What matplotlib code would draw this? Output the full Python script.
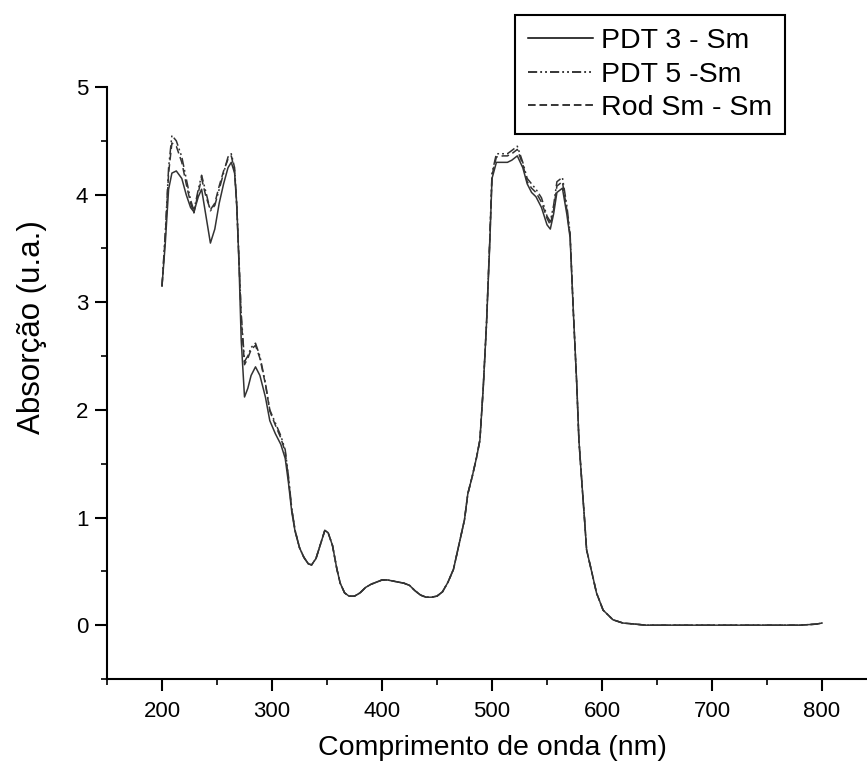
import matplotlib
matplotlib.use("Agg")
import matplotlib.pyplot as plt
from matplotlib import ticker

plt.rcParams['font.family'] = ['Liberation Sans', 'DejaVu Sans']

# wavelength (nm), shared by the three spectra
wavelength = [200, 203, 206, 209, 213, 218, 222, 226, 229, 233,
              236, 240, 244, 248, 252, 256, 260, 263, 266, 268,
              270, 272, 275, 278, 281, 285, 289, 294, 298, 303,
              308, 312, 315, 318, 321, 325, 329, 333, 336, 340,
              344, 348, 351, 355, 359, 362, 366, 370, 375, 380,
              385, 390, 395, 400, 405, 410, 415, 420, 425, 430,
              435, 440, 445, 450, 455, 460, 465, 470, 475, 478,
              482, 486, 489, 492, 495, 498, 500, 504, 510, 514,
              518, 523, 528, 532, 536, 540, 545, 550, 553, 556,
              559, 564, 568, 571, 574, 577, 579, 582, 584, 586,
              591, 595, 601, 610, 619, 630, 640, 660, 680, 700,
              720, 740, 760, 780, 795, 800]

pdt3_sm = [3.15, 3.55, 4.05, 4.20, 4.22, 4.15, 4.00, 3.88, 3.84, 3.98,
           4.05, 3.80, 3.55, 3.68, 3.92, 4.10, 4.25, 4.30, 4.20, 3.90,
           3.35, 2.65, 2.12, 2.20, 2.32, 2.40, 2.32, 2.12, 1.90, 1.78,
           1.68, 1.55, 1.32, 1.05, 0.87, 0.72, 0.63, 0.57, 0.56, 0.62,
           0.75, 0.88, 0.86, 0.74, 0.52, 0.39, 0.30, 0.27, 0.27, 0.30,
           0.35, 0.38, 0.40, 0.42, 0.42, 0.41, 0.40, 0.39, 0.37, 0.32,
           0.28, 0.26, 0.26, 0.27, 0.31, 0.40, 0.52, 0.75, 0.98, 1.22,
           1.38, 1.56, 1.72, 2.20, 2.80, 3.55, 4.15, 4.30, 4.30, 4.30,
           4.32, 4.36, 4.25, 4.10, 4.02, 3.98, 3.88, 3.72, 3.68, 3.82,
           4.02, 4.06, 3.82, 3.60, 2.90, 2.25, 1.72, 1.28, 1.00, 0.70,
           0.48, 0.30, 0.14, 0.05, 0.02, 0.01, 0.00, 0.00, 0.00, 0.00,
           0.00, 0.00, 0.00, 0.00, 0.01, 0.02]

pdt5_sm = [3.15, 3.65, 4.25, 4.55, 4.50, 4.35, 4.15, 3.95, 3.85, 4.05,
           4.18, 4.02, 3.85, 3.90, 4.05, 4.20, 4.35, 4.38, 4.25, 3.90,
           3.40, 2.90, 2.45, 2.50, 2.58, 2.62, 2.50, 2.25, 2.00, 1.88,
           1.76, 1.63, 1.38, 1.08, 0.88, 0.72, 0.63, 0.57, 0.56, 0.62,
           0.75, 0.88, 0.86, 0.74, 0.52, 0.39, 0.30, 0.27, 0.27, 0.30,
           0.35, 0.38, 0.40, 0.42, 0.42, 0.41, 0.40, 0.39, 0.37, 0.32,
           0.28, 0.26, 0.26, 0.27, 0.31, 0.40, 0.52, 0.75, 0.98, 1.22,
           1.38, 1.56, 1.72, 2.20, 2.80, 3.60, 4.20, 4.38, 4.38, 4.38,
           4.41, 4.45, 4.30, 4.15, 4.10, 4.05, 3.97, 3.80, 3.75, 3.90,
           4.12, 4.16, 3.90, 3.64, 2.90, 2.25, 1.72, 1.28, 1.00, 0.70,
           0.48, 0.30, 0.14, 0.05, 0.02, 0.01, 0.00, 0.00, 0.00, 0.00,
           0.00, 0.00, 0.00, 0.00, 0.01, 0.02]

rod_sm = [3.15, 3.62, 4.20, 4.48, 4.45, 4.30, 4.10, 3.92, 3.83, 4.02,
          4.15, 3.98, 3.86, 3.92, 4.08, 4.22, 4.33, 4.36, 4.22, 3.88,
          3.38, 2.85, 2.42, 2.48, 2.56, 2.60, 2.48, 2.24, 1.99, 1.86,
          1.74, 1.61, 1.36, 1.07, 0.88, 0.72, 0.63, 0.57, 0.56, 0.62,
          0.75, 0.88, 0.86, 0.74, 0.52, 0.39, 0.30, 0.27, 0.27, 0.30,
          0.35, 0.38, 0.40, 0.42, 0.42, 0.41, 0.40, 0.39, 0.37, 0.32,
          0.28, 0.26, 0.26, 0.27, 0.31, 0.40, 0.52, 0.75, 0.98, 1.22,
          1.38, 1.56, 1.72, 2.20, 2.80, 3.58, 4.18, 4.35, 4.36, 4.36,
          4.38, 4.42, 4.28, 4.12, 4.06, 4.02, 3.93, 3.78, 3.72, 3.86,
          4.08, 4.12, 3.86, 3.62, 2.90, 2.25, 1.72, 1.28, 1.00, 0.70,
          0.48, 0.30, 0.14, 0.05, 0.02, 0.01, 0.00, 0.00, 0.00, 0.00,
          0.00, 0.00, 0.00, 0.00, 0.01, 0.02]

labels = ["PDT 3 - Sm", "PDT 5 -Sm", "Rod Sm - Sm"]

fig = plt.figure(figsize=(8.67, 7.70), dpi=100)
# axes placed like the scan: left spine at x=107px, bottom at y=679px
ax = fig.add_axes([107 / 867, 91 / 770, 770 / 867, 592 / 770])

ax.plot(wavelength, pdt3_sm, color='#333333', lw=1.1, ls='-', label=labels[0])
ax.plot(wavelength, pdt5_sm, color='#333333', lw=1.1,
        ls=(0, (6, 2, 1.2, 2, 1.2, 2)), label=labels[1])
ax.plot(wavelength, rod_sm, color='#333333', lw=1.1,
        ls=(0, (5, 2.5)), label=labels[2])

ax.set_xlim(150, 850)
ax.set_ylim(-0.5, 5)

ax.spines['top'].set_visible(False)
ax.spines['right'].set_visible(False)
for side in ['left', 'bottom']:
    ax.spines[side].set_linewidth(1.5)

ax.xaxis.set_major_locator(ticker.MultipleLocator(100))
ax.xaxis.set_minor_locator(ticker.MultipleLocator(50))
ax.yaxis.set_major_locator(ticker.MultipleLocator(1))
ax.yaxis.set_minor_locator(ticker.MultipleLocator(0.5))
ax.tick_params(which='major', direction='out', length=8.5, width=1.5)
ax.tick_params(which='minor', direction='out', length=4, width=1.2)
ax.tick_params(axis='x', labelsize=16, pad=7)
ax.tick_params(axis='y', labelsize=16, pad=5)

ax.set_xlabel("Comprimento de onda (nm)", fontsize=20.5, labelpad=10)
ax.set_ylabel("Absorção (u.a.)", fontsize=22.5)
ax.yaxis.set_label_coords(-0.078, 0.595)

leg = ax.legend(loc='upper left', bbox_to_anchor=(515 / 867, 1 - 15 / 770),
                bbox_transform=fig.transFigure, borderaxespad=0,
                fontsize=20.5, handlelength=2.3, handletextpad=0.28,
                labelspacing=0.27, borderpad=0.45, fancybox=False,
                framealpha=1, edgecolor='black')
leg.get_frame().set_linewidth(1.5)
for line in leg.get_lines():
    line.set_color('black')

fig.savefig("out.png", dpi=100)
